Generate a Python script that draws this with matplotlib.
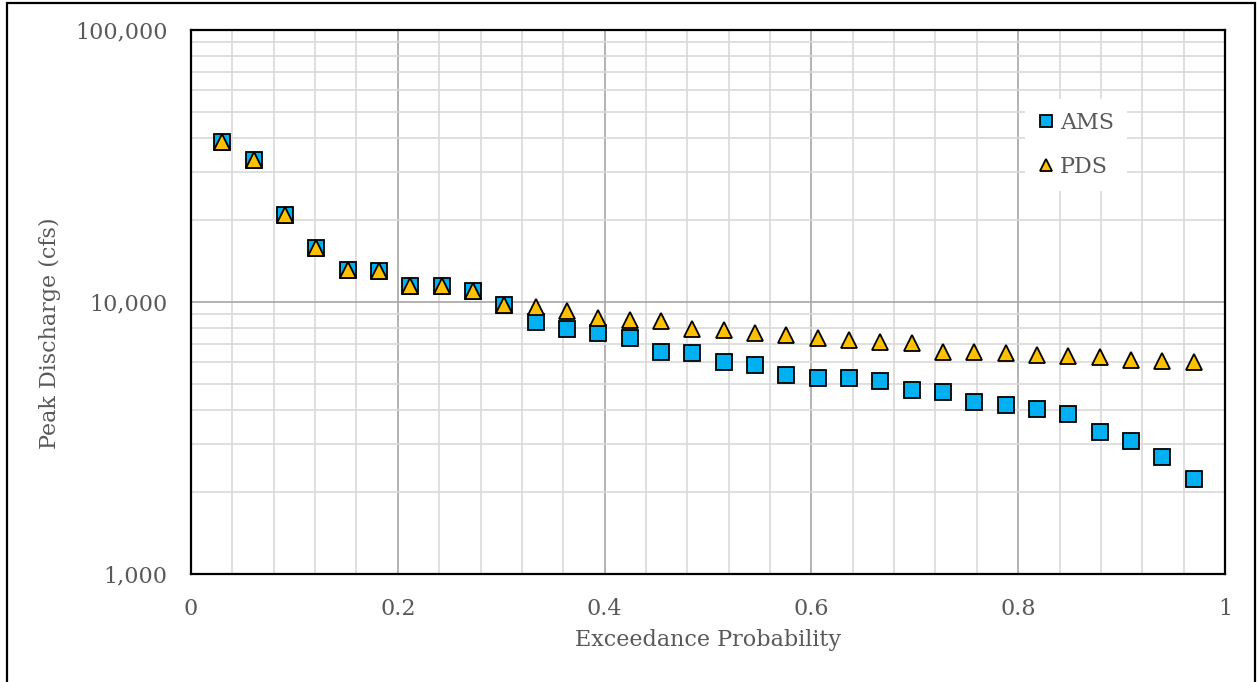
import matplotlib
matplotlib.use("Agg")
import matplotlib.pyplot as plt
from matplotlib.patches import Rectangle
from matplotlib.ticker import FixedLocator, NullFormatter
import numpy as np

# Data
rank = list(range(1, 33))
n_years = 32
ams = [38700, 33300, 20900, 15800, 13100, 13000, 11450, 11450, 10970, 9720,
       8470, 7940, 7670, 7390, 6530, 6500, 6030, 5870, 5390, 5240,
       5240, 5110, 4730, 4680, 4290, 4195, 4044, 3885, 3337, 3091,
       2692, 2241]
pds = [38700, 33300, 20900, 15800, 13100, 13000, 11450, 11450, 10970, 9720,
       9600, 9250, 8720, 8600, 8480, 7925, 7900, 7710, 7560, 7390,
       7230, 7110, 7060, 6530, 6530, 6510, 6400, 6315, 6260, 6105,
       6050, 6033]
x_ticks = [0, 0.2, 0.4, 0.6, 0.8, 1.0]
x_tick_labels = ["0", "0.2", "0.4", "0.6", "0.8", "1"]
y_ticks = [1000, 10000, 100000]
y_tick_labels = ["1,000", "10,000", "100,000"]

prob = [r / (n_years + 1) for r in rank]

W, H = 1257, 682
fig = plt.figure(figsize=(W / 100, H / 100), dpi=100)
fig.patch.set_facecolor("white")
ax = fig.add_axes([191 / W, 1 - 574 / H, (1225 - 191) / W, (574 - 30) / H])

font = "DejaVu Serif"
txt_color = "#595959"
fs = 16

ax.set_yscale("log")
ax.set_xlim(0, 1)
ax.set_ylim(1000, 100000)

# grid
ax.xaxis.set_major_locator(FixedLocator(x_ticks))
ax.xaxis.set_minor_locator(FixedLocator(np.arange(0.04, 1.0, 0.04)))
ax.yaxis.set_major_locator(FixedLocator(y_ticks))
minor_y = [m * d for d in (1000, 10000) for m in range(2, 10)]
ax.yaxis.set_minor_locator(FixedLocator(minor_y))
ax.yaxis.set_minor_formatter(NullFormatter())
ax.xaxis.set_minor_formatter(NullFormatter())
ax.set_xticklabels(x_tick_labels)
ax.set_yticklabels(y_tick_labels)

ax.grid(which="minor", color="#D9D9D9", linewidth=1.2, zorder=0)
ax.grid(which="major", color="#A6A6A6", linewidth=1.2, zorder=0)
ax.set_axisbelow(True)

ax.tick_params(which="both", length=0)
ax.tick_params(axis="x", pad=17, labelsize=fs, labelcolor=txt_color)
ax.tick_params(axis="y", pad=17, labelsize=fs, labelcolor=txt_color)
for lab in ax.get_xticklabels() + ax.get_yticklabels():
    lab.set_fontfamily(font)

for s in ax.spines.values():
    s.set_color("black")
    s.set_linewidth(1.6)

ax.plot(prob, ams, linestyle="none", marker="s", markersize=11.2,
        markerfacecolor="#00B0F0", markeredgecolor="black",
        markeredgewidth=1.3, label="AMS", zorder=3)
ax.plot(prob, pds, linestyle="none", marker="^", markersize=11.5,
        markerfacecolor="#FFC000", markeredgecolor="black",
        markeredgewidth=1.3, label="PDS", zorder=4)

ax.set_xlabel("Exceedance Probability", fontfamily=font, fontsize=fs,
              color=txt_color)
ax.xaxis.set_label_coords(0.5, (574 - 640) / 544, transform=ax.transAxes)
ax.xaxis.label.set_va("center")
ax.set_ylabel("Peak Discharge (cfs)", fontfamily=font, fontsize=fs,
              color=txt_color)
ax.yaxis.set_label_coords((50 - 191) / 1034, (574 - 333) / 544)
ax.yaxis.label.set_va("center")

leg = ax.legend(loc="center", bbox_to_anchor=(1076 / W, 1 - 145 / H),
                bbox_transform=fig.transFigure,
                prop={"family": font, "size": fs},
                frameon=True, fancybox=False, framealpha=1,
                facecolor="white", edgecolor="none", markerscale=0.8,
                handlelength=0.7, handletextpad=0.3, labelspacing=1.0,
                borderpad=0.6)
for t in leg.get_texts():
    t.set_color(txt_color)

# outer border
fig.patches.append(Rectangle((7 / W, -0.05), (1255 - 7) / W, 1.05 - 3 / H,
                             transform=fig.transFigure, fill=False,
                             edgecolor="black", linewidth=1.6))

fig.savefig("out.png", dpi=100)
